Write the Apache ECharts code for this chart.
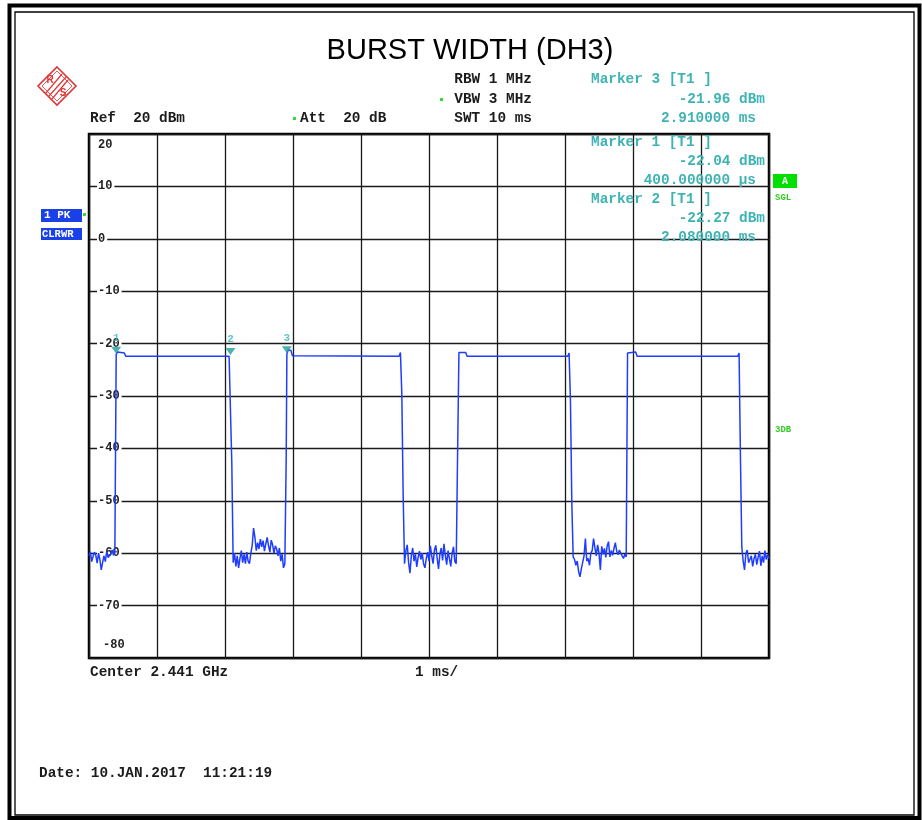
<!DOCTYPE html>
<html>
<head>
<meta charset="utf-8">
<title>BURST WIDTH (DH3)</title>
<script src="https://cdn.jsdelivr.net/npm/echarts@6/dist/echarts.min.js"></script>
<style>
  html, body { margin: 0; padding: 0; background: #fff; }
  #main { width: 922px; height: 820px; }
</style>
</head>
<body>
<div id="main"></div>
<script>
// sweep: 10 ms, 1 ms/div, ref 20 dBm, 10 dB/div
var xMin = 0, xMax = 10, xStep = 1;
var yMin = -80, yMax = 20, yStep = 10;
var sampleMs = 0.02;

// noise floor between bursts (one value per sample, start time in noiseStartMs)
var noiseStartMs = [0.00, 2.12, 4.64, 7.12, 9.62];
var noise0 = [-60.5, -59.7, -61.6, -60.6, -59.8, -60.4, -61.9, -60.0, -61.2, -63.2,
              -61.8, -60.5, -61.6, -59.7, -60.8, -61.0, -60.2, -59.4, -60.4, -60.0];
var noise1 = [-61.8, -60.0, -62.5, -60.5, -62.8, -61.0, -59.5, -61.8, -60.2, -62.0,
              -59.8, -61.5, -62.0, -60.0, -58.5, -55.2, -57.0, -59.5, -58.0, -59.2,
              -57.3, -58.8, -57.6, -59.6, -58.2, -57.0, -58.6, -59.8, -57.5, -58.4,
              -60.0, -58.6, -59.2, -60.5, -59.0, -61.5, -60.2, -62.8, -62.0];
var noise2 = [-62.0, -59.5, -58.4, -61.8, -63.8, -60.5, -59.0, -61.5, -60.2, -62.6,
              -60.8, -59.6, -61.2, -60.0, -62.0, -62.8, -61.0, -59.8, -61.5, -58.6,
              -60.5, -62.0, -59.4, -58.5, -61.0, -63.0, -60.2, -59.0, -61.4, -58.2,
              -60.4, -62.2, -59.5, -61.0, -62.5, -60.0, -58.8, -61.6, -62.0];
var noise3 = [-60.7, -61.2, -62.3, -61.5, -63.5, -64.5, -63.0, -62.9, -60.5, -57.2,
              -61.5, -61.0, -62.3, -60.0, -59.5, -57.2, -59.0, -60.5, -58.4, -60.0,
              -63.2, -58.7, -60.2, -59.1, -60.8, -58.6, -57.8, -60.7, -59.5, -60.4,
              -59.1, -58.0, -59.6, -60.3, -59.4, -59.1, -60.5, -61.0, -60.2, -60.7];
var noise4 = [-61.5, -63.2, -60.0, -59.4, -61.8, -62.0, -60.5, -62.5, -61.0, -60.2,
              -62.2, -60.8, -59.6, -62.4, -60.5, -61.8, -59.5, -61.2, -60.3, -61.0];

// bursts [ms, dBm], rising edge to falling edge
var burst1 = [[0.40, -22.04], [0.42, -21.6], [0.52, -21.8], [0.54, -22.4], [1.34, -22.4], [1.36, -22.1],
              [1.38, -22.4], [2.06, -22.4], [2.08, -22.27], [2.10, -42.8]];
var burst2 = [[2.90, -41.8], [2.91, -21.96], [2.93, -21.2], [2.97, -21.3], [2.99, -22.3], [4.56, -22.4],
              [4.58, -21.7], [4.60, -29.5], [4.62, -48.9]];
var burst3 = [[5.42, -41.5], [5.44, -21.7], [5.54, -21.7], [5.56, -22.4], [6.06, -22.4], [6.08, -22.1],
              [6.10, -22.4], [7.04, -22.4], [7.06, -21.8], [7.08, -30.8], [7.10, -50.3]];
var burst4 = [[7.92, -21.8], [7.94, -21.6], [8.04, -21.6], [8.06, -22.4], [8.90, -22.4], [8.91, -22.1],
              [8.92, -22.4], [9.02, -22.4], [9.03, -22.1], [9.04, -22.4], [9.54, -22.4], [9.56, -21.8],
              [9.58, -41.6], [9.60, -58.8]];

// markers
var markerIds = ['1', '2', '3'];
var markerTimes = [0.40, 2.08, 2.91];
var markerLevels = [-22.04, -22.27, -21.96];

function noisePoints(start, vals) {
    return vals.map(function (v, i) { return [+(start + i * sampleMs).toFixed(2), v]; });
}

var noises = [noise0, noise1, noise2, noise3, noise4];
var bursts = [burst1, burst2, burst3, burst4];
var trace = [];
for (var k = 0; k < noises.length; k++) {
    trace = trace.concat(noisePoints(noiseStartMs[k], noises[k]));
    if (bursts[k]) trace = trace.concat(bursts[k]);
}
var markerData = markerTimes.map(function (t, i) { return [t, markerLevels[i]]; });

var mono = '"Liberation Mono", "DejaVu Sans Mono", monospace';
var teal = '#3fb3b3';
var blk = '#1c1c1c';
var rsRed = '#e03434';

function txt(x, y, s, color, size, align) {
    return {
        type: 'text', x: x, y: y, z: 100,
        style: {
            text: s, fill: color || blk,
            font: 'bold ' + (size || 14.4) + 'px ' + mono,
            align: align || 'left', verticalAlign: 'middle'
        }
    };
}
function box(x, y, w, h, fill) {
    return { type: 'rect', z: 90, shape: { x: x, y: y, width: w, height: h }, style: { fill: fill } };
}
function seg(x1, y1, x2, y2, w) {
    return { type: 'polyline', z: 100, shape: { points: [[x1, y1], [x2, y2]] }, style: { stroke: rsRed, lineWidth: w || 1 } };
}

var graphics = [
    // page frame
    { type: 'rect', z: 100, shape: { x: 9.5, y: 5.5, width: 910, height: 812.5 }, style: { fill: 'none', stroke: '#000', lineWidth: 4 } },
    { type: 'rect', z: 100, shape: { x: 15, y: 12, width: 899, height: 803 }, style: { fill: 'none', stroke: '#000', lineWidth: 1.3 } },
    // title
    { type: 'text', x: 470, y: 51, z: 100, style: { text: 'BURST WIDTH (DH3)', fill: '#000', font: '29px "Liberation Sans", Arial, sans-serif', align: 'center', verticalAlign: 'middle' } },
    // R&S logo
    { type: 'polygon', z: 100, shape: { points: [[57, 67], [76, 86], [57, 105], [38, 86]] }, style: { fill: 'none', stroke: rsRed, lineWidth: 1.6 } },
    { type: 'polygon', z: 100, shape: { points: [[57, 71], [72, 86], [57, 101], [42, 86]] }, style: { fill: 'none', stroke: rsRed, lineWidth: 0.8 } },
    seg(49, 96, 66, 77, 1.2),
    seg(52, 99, 68, 80, 1.2),
    seg(46, 93, 62, 74, 1.2),
    { type: 'text', x: 50, y: 80, z: 100, style: { text: 'R', fill: rsRed, font: 'bold 10px "Liberation Sans", sans-serif', align: 'center', verticalAlign: 'middle' } },
    { type: 'text', x: 63, y: 93, z: 100, style: { text: 'S', fill: rsRed, font: 'bold 10px "Liberation Sans", sans-serif', align: 'center', verticalAlign: 'middle' } },
    // settings
    txt(532, 79, 'RBW 1 MHz', blk, 14.4, 'right'),
    txt(532, 99, 'VBW 3 MHz', blk, 14.4, 'right'),
    txt(532, 118, 'SWT 10 ms', blk, 14.4, 'right'),
    txt(90, 118, 'Ref  20 dBm'),
    txt(300, 118, 'Att  20 dB'),
    box(440, 98, 3, 3, '#33dd33'),
    box(293, 117, 3, 3, '#33dd33'),
    // marker readouts
    txt(591, 79, 'Marker 3 [T1 ]', teal),
    txt(765, 99, '-21.96 dBm', teal, 14.4, 'right'),
    txt(756, 118, '2.910000 ms', teal, 14.4, 'right'),
    txt(591, 142, 'Marker 1 [T1 ]', teal),
    txt(765, 161, '-22.04 dBm', teal, 14.4, 'right'),
    txt(756, 180, '400.000000 \u00b5s', teal, 14.4, 'right'),
    txt(591, 199, 'Marker 2 [T1 ]', teal),
    txt(765, 218, '-22.27 dBm', teal, 14.4, 'right'),
    txt(756, 237, '2.080000 ms', teal, 14.4, 'right'),
    // trace / status boxes
    box(41, 209, 41, 13, '#1a40e8'),
    txt(44, 215.5, '1 PK', '#fff', 11),
    box(83, 213, 3, 3, '#33dd33'),
    box(41, 228, 41, 12, '#1a40e8'),
    txt(42, 234, 'CLRWR', '#fff', 10.5),
    box(773, 174, 24, 14, '#00e000'),
    txt(785, 181, 'A', '#fff', 10, 'center'),
    txt(775, 198, 'SGL', '#33cc22', 9),
    txt(775, 430, '3DB', '#33cc22', 9),
    // bottom
    txt(90, 672, 'Center 2.441 GHz'),
    txt(415, 672, '1 ms/'),
    txt(39, 773, 'Date: 10.JAN.2017  11:21:19')
];

var myChart = echarts.init(document.getElementById('main'));

var labelFont = { fontFamily: mono, fontSize: 12, fontWeight: 'bold', color: '#222' };

var option = {
    animation: false,
    backgroundColor: '#fff',
    grid: {
        left: 89, right: 153, top: 134, bottom: 162,
        show: true, borderColor: '#000', borderWidth: 2.5, backgroundColor: 'transparent'
    },
    xAxis: {
        type: 'value', min: xMin, max: xMax, interval: xStep,
        axisLine: { show: false }, axisTick: { show: false }, axisLabel: { show: false },
        splitLine: { show: true, lineStyle: { color: '#1a1a1a', width: 1.3 } }
    },
    yAxis: {
        type: 'value', min: yMin, max: yMax, interval: yStep,
        axisLine: { show: false }, axisTick: { show: false },
        splitLine: { show: true, lineStyle: { color: '#1a1a1a', width: 1.3 } },
        axisLabel: {
            inside: true, margin: 8,
            fontFamily: mono, fontSize: 12, fontWeight: 'bold', color: '#222',
            formatter: function (v) {
                if (v === yMax) return '{t|' + v + '}';
                if (v === yMin) return '{b|' + v + '}';
                return '{n|' + v + '}';
            },
            rich: {
                n: Object.assign({ backgroundColor: '#fff', padding: [0, 2, 0, 1] }, labelFont),
                t: Object.assign({ padding: [22, 0, 0, 1] }, labelFont),
                b: Object.assign({ padding: [0, 0, 26, 6] }, labelFont)
            }
        }
    },
    graphic: graphics,
    series: [
        {
            name: 'Trace 1',
            type: 'line',
            data: trace,
            symbol: 'none',
            z: 3,
            lineStyle: { color: '#1f3dff', width: 1.5 }
        },
        {
            name: 'Markers',
            type: 'scatter',
            data: markerData,
            symbol: 'triangle',
            symbolRotate: 180,
            symbolSize: [10, 7],
            symbolOffset: [0, -4],
            z: 4,
            itemStyle: { color: '#1e9d9d' },
            label: {
                show: true, position: 'top', distance: 3,
                formatter: function (p) { return markerIds[p.dataIndex]; },
                fontFamily: mono, fontSize: 11, fontWeight: 'bold', color: teal
            }
        }
    ]
};

myChart.setOption(option);
</script>
</body>
</html>
